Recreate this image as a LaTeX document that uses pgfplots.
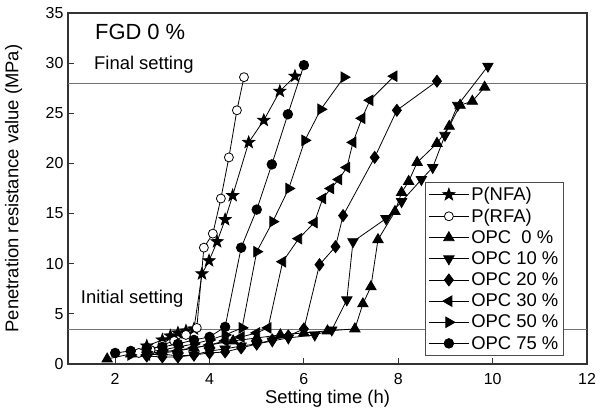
\documentclass[border=0pt]{standalone}
\usepackage{pgfplots}
\pgfplotsset{compat=1.18}
\usepackage{fontspec}
\setmainfont{Liberation Sans}
\pgfdeclareplotmark{fstar}{%
  \pgfpathmoveto{\pgfpointpolar{90}{1.15\pgfplotmarksize}}%
  \pgfpathlineto{\pgfpointpolar{126}{0.47\pgfplotmarksize}}%
  \pgfpathlineto{\pgfpointpolar{162}{1.15\pgfplotmarksize}}%
  \pgfpathlineto{\pgfpointpolar{198}{0.47\pgfplotmarksize}}%
  \pgfpathlineto{\pgfpointpolar{234}{1.15\pgfplotmarksize}}%
  \pgfpathlineto{\pgfpointpolar{270}{0.47\pgfplotmarksize}}%
  \pgfpathlineto{\pgfpointpolar{306}{1.15\pgfplotmarksize}}%
  \pgfpathlineto{\pgfpointpolar{342}{0.47\pgfplotmarksize}}%
  \pgfpathlineto{\pgfpointpolar{18}{1.15\pgfplotmarksize}}%
  \pgfpathlineto{\pgfpointpolar{54}{0.47\pgfplotmarksize}}%
  \pgfpathclose\pgfusepathqfillstroke}
\pgfplotsset{LL/.style={legend image code/.code={%
    \draw[mark repeat=2,mark phase=2,##1] plot coordinates {(0bp,0bp) (20bp,0bp) (40bp,0bp)};}}}
\begin{document}
\begin{tikzpicture}
\begin{axis}[
  scale only axis, width=519bp, height=351bp,
  xmin=1, xmax=12, ymin=0, ymax=35,
  xtick={2,4,6,8,10,12}, ytick={0,5,10,15,20,25,30,35},
  tick align=inside, xtick pos=bottom, ytick pos=left,
  major tick length=6bp,
  axis line style={line width=1.2bp, black!80},
  tick style={line width=1bp, black!80},
  /pgf/number format/assume math mode=true,
  ticklabel style={font=\fontsize{16}{18}\selectfont},
  xticklabel style={yshift=-6bp},
  yticklabel style={xshift=-1bp},
  xlabel={Setting time (h)}, ylabel={Penetration resistance value (MPa)},
  label style={font=\fontsize{18.5}{21}\selectfont},
  xlabel style={at={(axis description cs:0.5,-0.1)}, anchor=center},
  ylabel style={at={(axis description cs:-0.105,0.5)}, anchor=center},
  legend style={at={(0.688,0.519)}, anchor=north west, draw=black!70, line width=0.8bp,
    font=\fontsize{18.5}{20}\selectfont, row sep=2.8bp, inner sep=3bp},
  legend cell align=left,
  every axis plot/.append style={black, line width=0.8bp, mark options={solid}},
  clip=false,
]
\draw[black!55, line width=0.8bp] (axis cs:1,28) -- (axis cs:12,28);
\draw[black!55, line width=0.8bp] (axis cs:1,3.5) -- (axis cs:12,3.5);
\node[anchor=west, font=\fontsize{22}{24}\selectfont] at (axis cs:1.5,33.1) {FGD 0 \%};
\node[anchor=west, font=\fontsize{18.5}{21}\selectfont] at (axis cs:1.48,29.8) {Final setting};
\node[anchor=west, font=\fontsize{18.5}{21}\selectfont] at (axis cs:1.2,6.5) {Initial setting};

\addplot[mark=fstar, mark size=5.5bp, LL] coordinates {
(2.67,1.8) (3.0,2.4) (3.17,2.8) (3.33,3.1) (3.5,3.3) (3.67,3.5) (3.84,9.0) (3.99,10.3) (4.16,12.2) (4.33,14.4) (4.49,16.8) (4.83,22.1) (5.15,24.3) (5.49,27.2) (5.81,28.7)};
\addlegendentry{P(NFA)}
\addplot[mark=*, mark size=4.5bp, mark options={fill=white}, LL] coordinates {
(2.5,1.1) (2.75,1.4) (3.0,1.9) (3.25,2.3) (3.5,2.9) (3.73,3.6) (3.88,11.6) (4.07,13.0) (4.24,16.5) (4.41,20.6) (4.58,25.3) (4.73,28.6)};
\addlegendentry{P(RFA)}
\addplot[mark=triangle*, mark size=6bp, LL] coordinates {
(1.83,0.5) (2.33,1.0) (2.67,1.1) (3.0,1.2) (3.33,1.4) (3.67,1.6) (4.0,1.9) (4.5,2.3) (5.0,2.6) (5.5,2.9) (6.0,3.1) (6.5,3.3) (7.08,3.5) (7.25,6.0) (7.42,7.7) (7.57,12.4) (7.93,15.2) (8.07,17.1) (8.22,18.2) (8.40,20.1) (8.82,22.0) (9.08,23.7) (9.31,25.8) (9.57,26.2) (9.83,27.6)};
\addlegendentry{OPC\ \ 0 \%}
\addplot[mark=triangle*, mark size=6bp, mark options={rotate=180}, LL] coordinates {
(2.67,0.9) (3.0,1.0) (3.33,0.8) (3.67,0.9) (4.0,1.3) (4.33,1.5) (4.67,1.8) (5.0,2.0) (5.33,2.3) (5.67,2.6) (6.23,2.9) (6.59,3.4) (6.91,6.4) (7.04,12.2) (7.74,14.5) (8.07,16.2) (8.49,18.4) (8.73,19.6) (8.99,22.8) (9.26,25.8) (9.90,29.7)};
\addlegendentry{OPC 10 \%}
\addplot[mark=diamond*, mark size=6bp, LL] coordinates {
(2.67,0.8) (3.0,0.7) (3.33,0.7) (3.67,0.9) (4.0,1.1) (4.33,1.2) (4.67,1.6) (5.0,2.0) (5.33,2.4) (5.67,2.8) (6.0,3.5) (6.33,9.9) (6.67,11.7) (6.83,14.8) (7.5,20.6) (7.97,25.3) (8.82,28.2)};
\addlegendentry{OPC 20 \%}
\addplot[mark=triangle*, mark size=6bp, mark options={rotate=90}, LL] coordinates {
(2.67,0.9) (3.0,1.1) (3.33,1.3) (3.67,1.6) (4.0,1.9) (4.33,2.3) (4.67,2.7) (5.0,3.1) (5.24,3.6) (5.55,10.2) (5.89,12.5) (6.22,14.1) (6.40,16.5) (6.57,17.5) (6.74,18.4) (6.91,19.6) (7.04,22.1) (7.23,24.5) (7.40,26.3) (7.91,28.7)};
\addlegendentry{OPC 30 \%}
\addplot[mark=triangle*, mark size=6bp, mark options={rotate=270}, LL] coordinates {
(2.33,0.9) (2.67,1.2) (3.0,1.4) (3.33,1.7) (3.67,2.0) (4.0,2.4) (4.33,2.9) (4.69,3.6) (5.0,11.2) (5.34,14.2) (5.68,17.5) (6.02,22.3) (6.36,25.4) (6.85,28.6)};
\addlegendentry{OPC 50 \%}
\addplot[mark=*, mark size=4.8bp, LL] coordinates {
(2.0,1.1) (2.33,1.3) (2.67,1.6) (3.0,1.7) (3.33,2.0) (3.67,2.4) (4.0,2.7) (4.33,3.7) (4.67,11.6) (5.0,15.4) (5.32,19.9) (5.66,24.9) (6.0,29.8)};
\addlegendentry{OPC 75 \%}
\end{axis}
\pgfresetboundingbox
\path (-68bp,-49bp) rectangle (537bp,364bp);
\end{tikzpicture}
\end{document}
